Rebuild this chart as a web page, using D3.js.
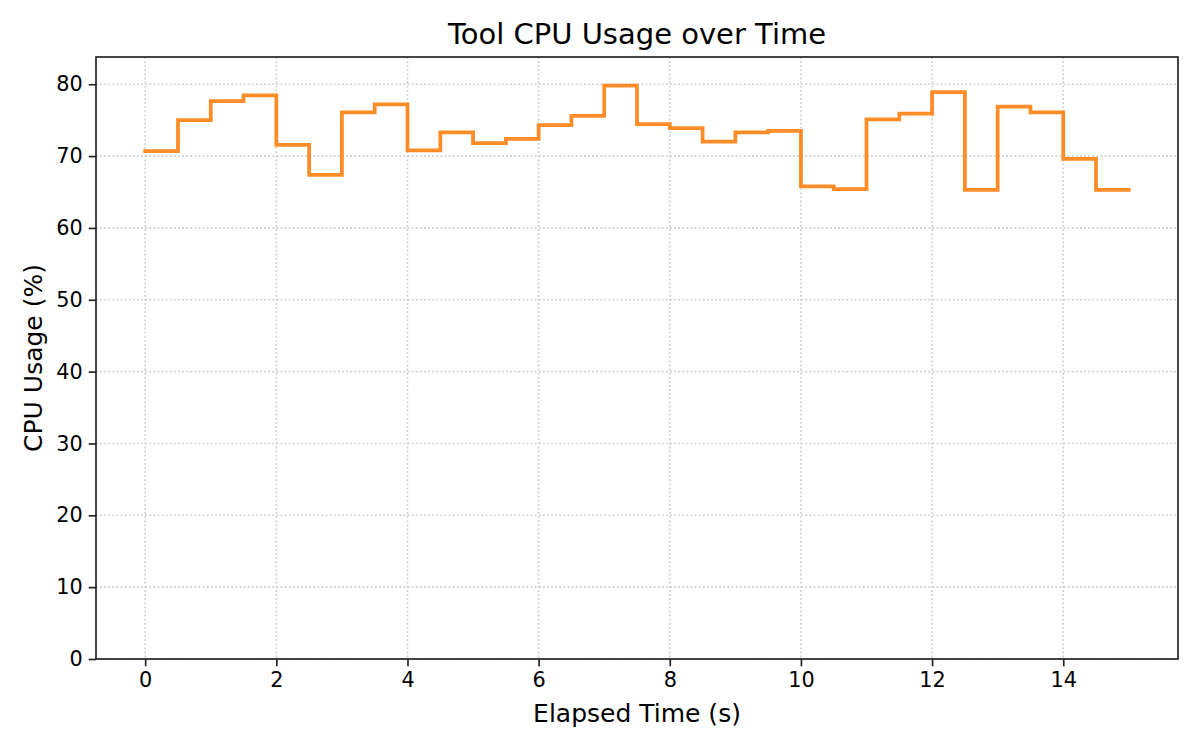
<!DOCTYPE html>
<html>
<head>
<meta charset="utf-8">
<script src="https://cdn.jsdelivr.net/npm/d3@7"></script>
<style>
  body { margin: 0; background: #fff; }
  svg text { font-family: "DejaVu Sans", sans-serif; fill: #000; }
</style>
</head>
<body>
<svg id="chart" width="1200" height="750"></svg>
<script>
// Sample times (s) and CPU readings (%)
const times = [0, 0.5, 1, 1.5, 2, 2.5, 3, 3.5, 4, 4.5, 5, 5.5, 6, 6.5, 7, 7.5,
               8, 8.5, 9, 9.5, 10, 10.5, 11, 11.5, 12, 12.5, 13, 13.5, 14, 14.5, 15];
const cpu = [70.7, 75.0, 77.65, 78.45, 71.55, 67.4, 76.1, 77.2, 70.8, 73.3, 71.8, 72.4,
             74.3, 75.6, 79.8, 74.45, 73.9, 72.0, 73.3, 73.5, 65.8, 65.4, 75.1, 75.9,
             78.9, 65.3, 76.9, 76.1, 69.6, 65.3, 65.3];
const xTicks = [0, 2, 4, 6, 8, 10, 12, 14];
const yTicks = [0, 10, 20, 30, 40, 50, 60, 70, 80];

// Plot box
let margin = { top: 57, left: 96, right: 22, bottom: 91 },
    width = 1200 - margin.left - margin.right,
    height = 750 - margin.top - margin.bottom;

let svg = d3.select("#chart");
let g = svg.append("g")
    .attr("transform", "translate(" + margin.left + "," + margin.top + ")");

// matplotlib-like 5% margins on x, y from 0 to max*1.05
let x = d3.scaleLinear().domain([-0.75, 15.75]).range([0, width]);
let y = d3.scaleLinear().domain([0, d3.max(cpu) * 1.05]).range([height, 0]);

// Dotted grid
g.append("g").selectAll("line.gx")
  .data(xTicks).enter().append("line")
    .attr("x1", d => x(d)).attr("x2", d => x(d))
    .attr("y1", 0).attr("y2", height)
    .attr("stroke", "#b0b0b0").attr("stroke-opacity", 0.6)
    .attr("stroke-width", 1.6).attr("stroke-dasharray", "1.9,2.2");
g.append("g").selectAll("line.gy")
  .data(yTicks).enter().append("line")
    .attr("x1", 0).attr("x2", width)
    .attr("y1", d => y(d)).attr("y2", d => y(d))
    .attr("stroke", "#b0b0b0").attr("stroke-opacity", 0.6)
    .attr("stroke-width", 1.6).attr("stroke-dasharray", "1.9,2.2");

// Step line (post)
let line = d3.line()
    .x((d, i) => x(times[i]))
    .y(d => y(d))
    .curve(d3.curveStepAfter);

g.append("path")
  .datum(cpu)
  .attr("fill", "none")
  .attr("stroke", "#ff7f0e")
  .attr("stroke-opacity", 0.9)
  .attr("stroke-width", 3.75)
  .attr("stroke-linejoin", "miter")
  .attr("stroke-linecap", "square")
  .attr("d", line);

// Axes
let xAxis = g.append("g")
    .attr("transform", "translate(0," + height + ")")
    .call(d3.axisBottom(x).tickValues(xTicks).tickSize(7.3).tickPadding(6).tickFormat(d3.format("d")));
let yAxis = g.append("g")
    .call(d3.axisLeft(y).tickValues(yTicks).tickSize(7.3).tickPadding(6).tickFormat(d3.format("d")));

[xAxis, yAxis].forEach(a => {
    a.select(".domain").remove();
    a.selectAll(".tick line").attr("stroke", "#222").attr("stroke-width", 1.67);
    a.selectAll(".tick text").style("font-size", "20.8px").attr("fill", "#000");
});

// Frame
g.append("rect")
  .attr("x", 0).attr("y", 0)
  .attr("width", width).attr("height", height)
  .attr("fill", "none")
  .attr("stroke", "#222")
  .attr("stroke-width", 1.67);

// Title and labels
svg.append("text")
  .attr("x", margin.left + width / 2)
  .attr("y", 44)
  .attr("text-anchor", "middle")
  .style("font-size", "29px")
  .text("Tool CPU Usage over Time");

svg.append("text")
  .attr("x", margin.left + width / 2)
  .attr("y", 722)
  .attr("text-anchor", "middle")
  .style("font-size", "25px")
  .text("Elapsed Time (s)");

svg.append("text")
  .attr("transform", "translate(42," + (margin.top + height / 2) + ") rotate(-90)")
  .attr("text-anchor", "middle")
  .style("font-size", "25px")
  .text("CPU Usage (%)");
</script>
</body>
</html>
